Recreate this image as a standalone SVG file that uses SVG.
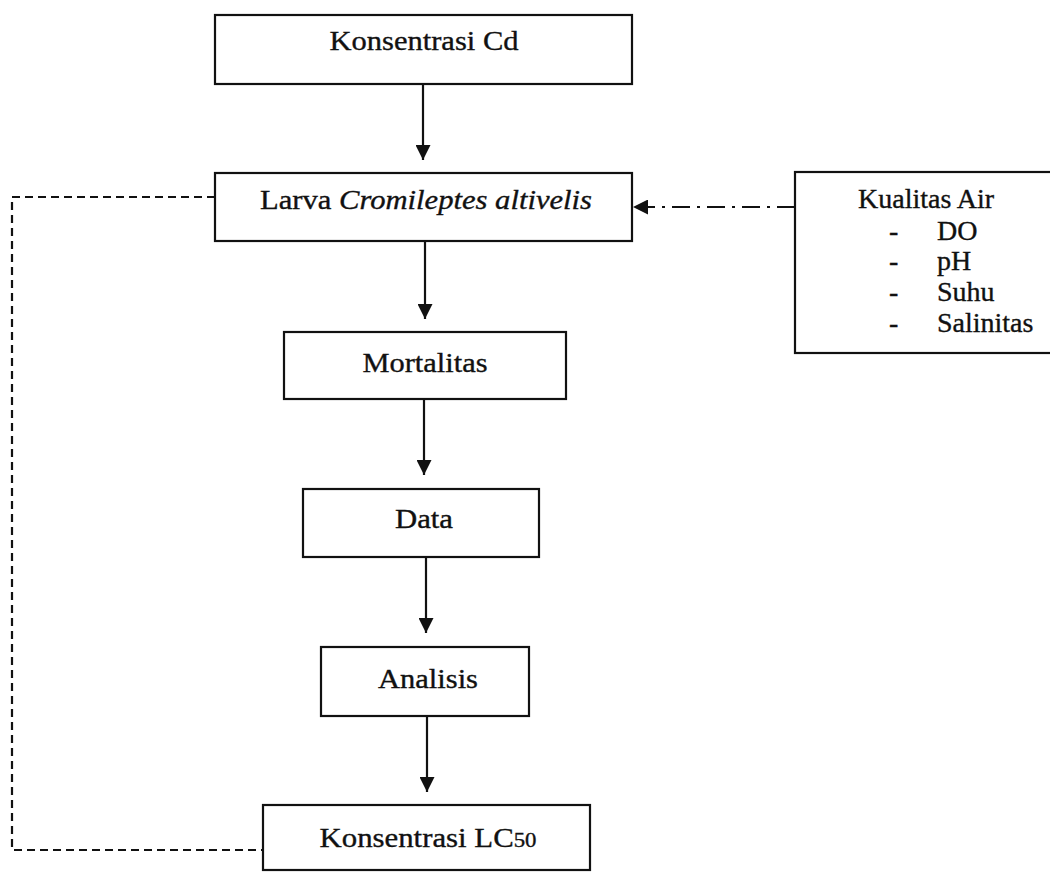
<svg xmlns="http://www.w3.org/2000/svg" width="1050" height="872" viewBox="0 0 1050 872">
<style>
.box{fill:#fff;stroke:#111;stroke-width:2.2}
.t{font-family:"Liberation Serif","Times New Roman",serif;font-size:27px;fill:#111;stroke:#111;stroke-width:0.35}
.c{text-anchor:middle}
.k{font-family:"Liberation Serif","Times New Roman",serif;font-size:28px;fill:#111;stroke:#111;stroke-width:0.35}
.ln{fill:none;stroke:#111;stroke-width:2.2}
.dash{stroke-dasharray:8 5}
.dashdot{stroke-dasharray:18 7 3 7}
</style>
<defs>
<marker id="ah" markerUnits="userSpaceOnUse" markerWidth="15" markerHeight="15" viewBox="0 0 15 15" refX="15" refY="7.5" orient="auto">
<path d="M0,0 L15,7.5 L0,15 z" fill="#111"/>
</marker>
</defs>
<rect width="1050" height="872" fill="#fff"/>
<g id="connectors">
<line class="ln" x1="423" y1="84" x2="423" y2="160" marker-end="url(#ah)"/>
<line class="ln" x1="425" y1="241" x2="425" y2="319" marker-end="url(#ah)"/>
<line class="ln" x1="424" y1="399" x2="424" y2="475" marker-end="url(#ah)"/>
<line class="ln" x1="426" y1="557" x2="426" y2="633" marker-end="url(#ah)"/>
<line class="ln" x1="427" y1="716" x2="427" y2="792" marker-end="url(#ah)"/>
<line class="ln dashdot" x1="795" y1="207" x2="633" y2="207" marker-end="url(#ah)"/>
<path class="ln dash" d="M215,197 H12 V850 H263"/>
</g>
<g id="node-konsentrasi-cd">
<rect class="box" x="215" y="15" width="417" height="69"/>
<text class="t c" x="424" y="50" textLength="189" lengthAdjust="spacingAndGlyphs">Konsentrasi Cd</text>
</g>
<g id="node-larva">
<rect class="box" x="215" y="173" width="417" height="68"/>
<text class="t c" x="426" y="209" textLength="332" lengthAdjust="spacingAndGlyphs">Larva <tspan font-style="italic">Cromileptes altivelis</tspan></text>
</g>
<g id="node-kualitas-air">
<rect class="box" x="795" y="172" width="260" height="181"/>
<text class="k" x="858" y="208">Kualitas Air</text>
<text class="k" x="889" y="240">-</text>
<text class="k" x="937" y="240">DO</text>
<text class="k" x="889" y="270">-</text>
<text class="k" x="937" y="270">pH</text>
<text class="k" x="889" y="301">-</text>
<text class="k" x="937" y="301">Suhu</text>
<text class="k" x="889" y="332">-</text>
<text class="k" x="937" y="332">Salinitas</text>
</g>
<g id="node-mortalitas">
<rect class="box" x="284" y="332" width="282" height="67"/>
<text class="t c" x="425" y="372" textLength="125" lengthAdjust="spacingAndGlyphs">Mortalitas</text>
</g>
<g id="node-data">
<rect class="box" x="303" y="489" width="236" height="68"/>
<text class="t c" x="424" y="528" textLength="58" lengthAdjust="spacingAndGlyphs">Data</text>
</g>
<g id="node-analisis">
<rect class="box" x="321" y="647" width="208" height="69"/>
<text class="t c" x="428" y="688" textLength="100" lengthAdjust="spacingAndGlyphs">Analisis</text>
</g>
<g id="node-lc50">
<rect class="box" x="263" y="805" width="327" height="65"/>
<text class="t c" x="428" y="847" textLength="217" lengthAdjust="spacingAndGlyphs">Konsentrasi LC<tspan font-size="20">50</tspan></text>
</g>
</svg>
